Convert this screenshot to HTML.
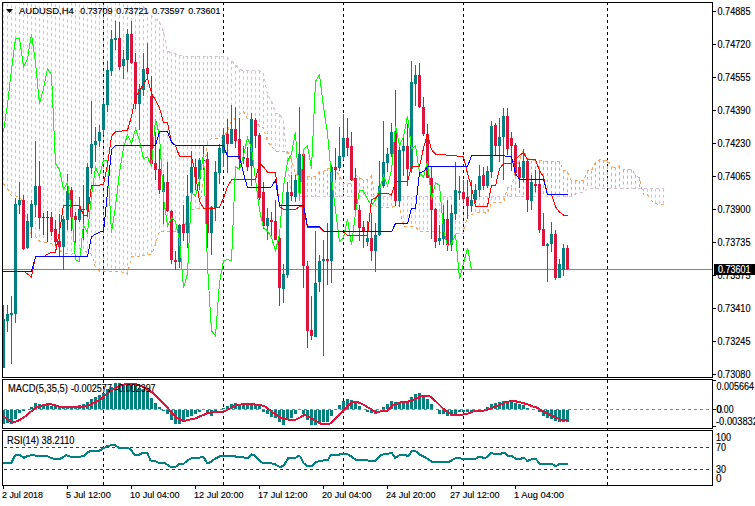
<!DOCTYPE html><html><head><meta charset="utf-8"><style>html,body{margin:0;padding:0;background:#fff;width:755px;height:506px;overflow:hidden}svg{display:block}text{font-family:"Liberation Sans",sans-serif;stroke:currentColor;stroke-width:0.15px}</style></head><body>
<svg width="755" height="506" viewBox="0 0 755 506">
<rect x="0" y="0" width="755" height="506" fill="#fff"/>
<defs>
<clipPath id="cm"><rect x="3" y="3" width="709" height="374"/></clipPath>
<clipPath id="cd"><rect x="3" y="380" width="709" height="48"/></clipPath>
<clipPath id="cr"><rect x="3" y="431" width="709" height="54"/></clipPath>
</defs>
<line x1="103.5" y1="2" x2="103.5" y2="485" stroke="#000" stroke-dasharray="3 3" shape-rendering="crispEdges"/>
<line x1="223.5" y1="2" x2="223.5" y2="485" stroke="#000" stroke-dasharray="3 3" shape-rendering="crispEdges"/>
<line x1="343.5" y1="2" x2="343.5" y2="485" stroke="#000" stroke-dasharray="3 3" shape-rendering="crispEdges"/>
<line x1="463.5" y1="2" x2="463.5" y2="485" stroke="#000" stroke-dasharray="3 3" shape-rendering="crispEdges"/>
<line x1="607.5" y1="2" x2="607.5" y2="485" stroke="#000" stroke-dasharray="3 3" shape-rendering="crispEdges"/>
<g clip-path="url(#cm)">
<line x1="3.5" y1="-39.2" x2="3.5" y2="184.0" stroke="#D8BFD8" stroke-dasharray="3 3"/><line x1="7.5" y1="-38.2" x2="7.5" y2="188.6" stroke="#D8BFD8" stroke-dasharray="3 3"/><line x1="11.5" y1="-37.1" x2="11.5" y2="195.5" stroke="#D8BFD8" stroke-dasharray="3 3"/><line x1="15.5" y1="-36.1" x2="15.5" y2="196.0" stroke="#D8BFD8" stroke-dasharray="3 3"/><line x1="19.5" y1="-35.1" x2="19.5" y2="196.5" stroke="#D8BFD8" stroke-dasharray="3 3"/><line x1="23.5" y1="-34.0" x2="23.5" y2="202.8" stroke="#D8BFD8" stroke-dasharray="3 3"/><line x1="27.5" y1="-33.0" x2="27.5" y2="225.0" stroke="#D8BFD8" stroke-dasharray="3 3"/><line x1="31.5" y1="-32.0" x2="31.5" y2="234.6" stroke="#D8BFD8" stroke-dasharray="3 3"/><line x1="35.5" y1="-30.9" x2="35.5" y2="236.2" stroke="#D8BFD8" stroke-dasharray="3 3"/><line x1="39.5" y1="-29.9" x2="39.5" y2="241.2" stroke="#D8BFD8" stroke-dasharray="3 3"/><line x1="43.5" y1="-28.9" x2="43.5" y2="242.3" stroke="#D8BFD8" stroke-dasharray="3 3"/><line x1="47.5" y1="-27.8" x2="47.5" y2="242.3" stroke="#D8BFD8" stroke-dasharray="3 3"/><line x1="51.5" y1="-26.8" x2="51.5" y2="243.7" stroke="#D8BFD8" stroke-dasharray="3 3"/><line x1="55.5" y1="-25.7" x2="55.5" y2="247.1" stroke="#D8BFD8" stroke-dasharray="3 3"/><line x1="59.5" y1="-24.7" x2="59.5" y2="250.5" stroke="#D8BFD8" stroke-dasharray="3 3"/><line x1="63.5" y1="-23.7" x2="63.5" y2="252.6" stroke="#D8BFD8" stroke-dasharray="3 3"/><line x1="67.5" y1="-22.6" x2="67.5" y2="254.0" stroke="#D8BFD8" stroke-dasharray="3 3"/><line x1="71.5" y1="-21.6" x2="71.5" y2="254.8" stroke="#D8BFD8" stroke-dasharray="3 3"/><line x1="75.5" y1="-20.6" x2="75.5" y2="248.9" stroke="#D8BFD8" stroke-dasharray="3 3"/><line x1="79.5" y1="-19.5" x2="79.5" y2="248.4" stroke="#D8BFD8" stroke-dasharray="3 3"/><line x1="83.5" y1="-18.5" x2="83.5" y2="250.2" stroke="#D8BFD8" stroke-dasharray="3 3"/><line x1="87.5" y1="-17.4" x2="87.5" y2="252.6" stroke="#D8BFD8" stroke-dasharray="3 3"/><line x1="91.5" y1="-16.4" x2="91.5" y2="254.1" stroke="#D8BFD8" stroke-dasharray="3 3"/><line x1="95.5" y1="-15.4" x2="95.5" y2="267.3" stroke="#D8BFD8" stroke-dasharray="3 3"/><line x1="99.5" y1="-14.3" x2="99.5" y2="271.0" stroke="#D8BFD8" stroke-dasharray="3 3"/><line x1="103.5" y1="-13.3" x2="103.5" y2="271.0" stroke="#D8BFD8" stroke-dasharray="3 3"/><line x1="107.5" y1="-12.3" x2="107.5" y2="271.0" stroke="#D8BFD8" stroke-dasharray="3 3"/><line x1="111.5" y1="-11.2" x2="111.5" y2="271.0" stroke="#D8BFD8" stroke-dasharray="3 3"/><line x1="115.5" y1="-10.2" x2="115.5" y2="271.0" stroke="#D8BFD8" stroke-dasharray="3 3"/><line x1="119.5" y1="-9.1" x2="119.5" y2="271.0" stroke="#D8BFD8" stroke-dasharray="3 3"/><line x1="123.5" y1="-8.1" x2="123.5" y2="272.5" stroke="#D8BFD8" stroke-dasharray="3 3"/><line x1="127.5" y1="-7.1" x2="127.5" y2="274.0" stroke="#D8BFD8" stroke-dasharray="3 3"/><line x1="131.5" y1="-6.0" x2="131.5" y2="256.9" stroke="#D8BFD8" stroke-dasharray="3 3"/><line x1="135.5" y1="-5.0" x2="135.5" y2="256.9" stroke="#D8BFD8" stroke-dasharray="3 3"/><line x1="139.5" y1="1.0" x2="139.5" y2="256.9" stroke="#D8BFD8" stroke-dasharray="3 3"/><line x1="143.5" y1="7.0" x2="143.5" y2="255.5" stroke="#D8BFD8" stroke-dasharray="3 3"/><line x1="147.5" y1="11.6" x2="147.5" y2="254.5" stroke="#D8BFD8" stroke-dasharray="3 3"/><line x1="151.5" y1="15.7" x2="151.5" y2="254.5" stroke="#D8BFD8" stroke-dasharray="3 3"/><line x1="155.5" y1="18.5" x2="155.5" y2="244.3" stroke="#D8BFD8" stroke-dasharray="3 3"/><line x1="159.5" y1="21.3" x2="159.5" y2="231.0" stroke="#D8BFD8" stroke-dasharray="3 3"/><line x1="163.5" y1="31.8" x2="163.5" y2="231.0" stroke="#D8BFD8" stroke-dasharray="3 3"/><line x1="167.5" y1="51.0" x2="167.5" y2="231.0" stroke="#D8BFD8" stroke-dasharray="3 3"/><line x1="171.5" y1="52.9" x2="171.5" y2="231.0" stroke="#D8BFD8" stroke-dasharray="3 3"/><line x1="175.5" y1="54.0" x2="175.5" y2="231.0" stroke="#D8BFD8" stroke-dasharray="3 3"/><line x1="179.5" y1="55.6" x2="179.5" y2="236.1" stroke="#D8BFD8" stroke-dasharray="3 3"/><line x1="183.5" y1="56.0" x2="183.5" y2="236.5" stroke="#D8BFD8" stroke-dasharray="3 3"/><line x1="187.5" y1="56.0" x2="187.5" y2="211.0" stroke="#D8BFD8" stroke-dasharray="3 3"/><line x1="191.5" y1="56.0" x2="191.5" y2="209.6" stroke="#D8BFD8" stroke-dasharray="3 3"/><line x1="195.5" y1="56.0" x2="195.5" y2="208.6" stroke="#D8BFD8" stroke-dasharray="3 3"/><line x1="199.5" y1="56.0" x2="199.5" y2="208.2" stroke="#D8BFD8" stroke-dasharray="3 3"/><line x1="203.5" y1="56.0" x2="203.5" y2="178.4" stroke="#D8BFD8" stroke-dasharray="3 3"/><line x1="207.5" y1="56.0" x2="207.5" y2="143.0" stroke="#D8BFD8" stroke-dasharray="3 3"/><line x1="211.5" y1="56.0" x2="211.5" y2="138.6" stroke="#D8BFD8" stroke-dasharray="3 3"/><line x1="215.5" y1="56.0" x2="215.5" y2="138.6" stroke="#D8BFD8" stroke-dasharray="3 3"/><line x1="219.5" y1="56.0" x2="219.5" y2="137.8" stroke="#D8BFD8" stroke-dasharray="3 3"/><line x1="223.5" y1="56.0" x2="223.5" y2="137.8" stroke="#D8BFD8" stroke-dasharray="3 3"/><line x1="227.5" y1="57.5" x2="227.5" y2="130.8" stroke="#D8BFD8" stroke-dasharray="3 3"/><line x1="231.5" y1="61.0" x2="231.5" y2="121.3" stroke="#D8BFD8" stroke-dasharray="3 3"/><line x1="235.5" y1="65.0" x2="235.5" y2="118.2" stroke="#D8BFD8" stroke-dasharray="3 3"/><line x1="239.5" y1="69.4" x2="239.5" y2="114.5" stroke="#D8BFD8" stroke-dasharray="3 3"/><line x1="243.5" y1="70.6" x2="243.5" y2="111.6" stroke="#D8BFD8" stroke-dasharray="3 3"/><line x1="247.5" y1="70.7" x2="247.5" y2="119.2" stroke="#D8BFD8" stroke-dasharray="3 3"/><line x1="251.5" y1="70.8" x2="251.5" y2="122.7" stroke="#D8BFD8" stroke-dasharray="3 3"/><line x1="255.5" y1="70.9" x2="255.5" y2="119.8" stroke="#D8BFD8" stroke-dasharray="3 3"/><line x1="259.5" y1="71.0" x2="259.5" y2="127.2" stroke="#D8BFD8" stroke-dasharray="3 3"/><line x1="263.5" y1="73.0" x2="263.5" y2="127.2" stroke="#D8BFD8" stroke-dasharray="3 3"/><line x1="267.5" y1="95.0" x2="267.5" y2="142.2" stroke="#D8BFD8" stroke-dasharray="3 3"/><line x1="271.5" y1="101.0" x2="271.5" y2="145.7" stroke="#D8BFD8" stroke-dasharray="3 3"/><line x1="275.5" y1="113.0" x2="275.5" y2="151.1" stroke="#D8BFD8" stroke-dasharray="3 3"/><line x1="279.5" y1="114.2" x2="279.5" y2="151.1" stroke="#D8BFD8" stroke-dasharray="3 3"/><line x1="283.5" y1="120.5" x2="283.5" y2="151.1" stroke="#D8BFD8" stroke-dasharray="3 3"/><line x1="287.5" y1="151.1" x2="287.5" y2="162.5" stroke="#F4A460" stroke-dasharray="3 3"/><line x1="291.5" y1="159.5" x2="291.5" y2="196.9" stroke="#F4A460" stroke-dasharray="3 3"/><line x1="295.5" y1="173.5" x2="295.5" y2="196.9" stroke="#F4A460" stroke-dasharray="3 3"/><line x1="299.5" y1="176.9" x2="299.5" y2="196.9" stroke="#F4A460" stroke-dasharray="3 3"/><line x1="303.5" y1="176.9" x2="303.5" y2="196.9" stroke="#F4A460" stroke-dasharray="3 3"/><line x1="307.5" y1="176.9" x2="307.5" y2="196.9" stroke="#F4A460" stroke-dasharray="3 3"/><line x1="311.5" y1="176.9" x2="311.5" y2="196.9" stroke="#F4A460" stroke-dasharray="3 3"/><line x1="315.5" y1="176.4" x2="315.5" y2="196.9" stroke="#F4A460" stroke-dasharray="3 3"/><line x1="319.5" y1="171.9" x2="319.5" y2="196.9" stroke="#F4A460" stroke-dasharray="3 3"/><line x1="323.5" y1="171.7" x2="323.5" y2="196.9" stroke="#F4A460" stroke-dasharray="3 3"/><line x1="327.5" y1="168.2" x2="327.5" y2="196.9" stroke="#F4A460" stroke-dasharray="3 3"/><line x1="331.5" y1="168.2" x2="331.5" y2="196.9" stroke="#F4A460" stroke-dasharray="3 3"/><line x1="335.5" y1="168.2" x2="335.5" y2="196.9" stroke="#F4A460" stroke-dasharray="3 3"/><line x1="339.5" y1="176.6" x2="339.5" y2="196.9" stroke="#F4A460" stroke-dasharray="3 3"/><line x1="343.5" y1="183.8" x2="343.5" y2="196.9" stroke="#F4A460" stroke-dasharray="3 3"/><line x1="347.5" y1="183.8" x2="347.5" y2="196.9" stroke="#F4A460" stroke-dasharray="3 3"/><line x1="351.5" y1="183.8" x2="351.5" y2="196.9" stroke="#F4A460" stroke-dasharray="3 3"/><line x1="355.5" y1="175.3" x2="355.5" y2="196.9" stroke="#F4A460" stroke-dasharray="3 3"/><line x1="359.5" y1="177.3" x2="359.5" y2="196.9" stroke="#F4A460" stroke-dasharray="3 3"/><line x1="363.5" y1="180.1" x2="363.5" y2="196.9" stroke="#F4A460" stroke-dasharray="3 3"/><line x1="367.5" y1="179.6" x2="367.5" y2="196.9" stroke="#F4A460" stroke-dasharray="3 3"/><line x1="371.5" y1="176.1" x2="371.5" y2="196.9" stroke="#F4A460" stroke-dasharray="3 3"/><line x1="375.5" y1="196.9" x2="375.5" y2="205.9" stroke="#D8BFD8" stroke-dasharray="3 3"/><line x1="379.5" y1="196.9" x2="379.5" y2="207.4" stroke="#D8BFD8" stroke-dasharray="3 3"/><line x1="383.5" y1="196.9" x2="383.5" y2="207.4" stroke="#D8BFD8" stroke-dasharray="3 3"/><line x1="387.5" y1="196.9" x2="387.5" y2="207.4" stroke="#D8BFD8" stroke-dasharray="3 3"/><line x1="391.5" y1="196.9" x2="391.5" y2="207.4" stroke="#D8BFD8" stroke-dasharray="3 3"/><line x1="395.5" y1="196.9" x2="395.5" y2="205.9" stroke="#D8BFD8" stroke-dasharray="3 3"/><line x1="399.5" y1="196.9" x2="399.5" y2="205.9" stroke="#D8BFD8" stroke-dasharray="3 3"/><line x1="403.5" y1="196.9" x2="403.5" y2="226.8" stroke="#D8BFD8" stroke-dasharray="3 3"/><line x1="407.5" y1="196.9" x2="407.5" y2="226.8" stroke="#D8BFD8" stroke-dasharray="3 3"/><line x1="411.5" y1="196.9" x2="411.5" y2="226.8" stroke="#D8BFD8" stroke-dasharray="3 3"/><line x1="415.5" y1="196.9" x2="415.5" y2="226.8" stroke="#D8BFD8" stroke-dasharray="3 3"/><line x1="419.5" y1="196.9" x2="419.5" y2="231.2" stroke="#D8BFD8" stroke-dasharray="3 3"/><line x1="423.5" y1="196.9" x2="423.5" y2="231.8" stroke="#D8BFD8" stroke-dasharray="3 3"/><line x1="427.5" y1="196.9" x2="427.5" y2="231.8" stroke="#D8BFD8" stroke-dasharray="3 3"/><line x1="431.5" y1="196.9" x2="431.5" y2="231.8" stroke="#D8BFD8" stroke-dasharray="3 3"/><line x1="435.5" y1="196.9" x2="435.5" y2="231.8" stroke="#D8BFD8" stroke-dasharray="3 3"/><line x1="439.5" y1="196.9" x2="439.5" y2="231.8" stroke="#D8BFD8" stroke-dasharray="3 3"/><line x1="443.5" y1="196.9" x2="443.5" y2="233.5" stroke="#D8BFD8" stroke-dasharray="3 3"/><line x1="447.5" y1="196.9" x2="447.5" y2="233.5" stroke="#D8BFD8" stroke-dasharray="3 3"/><line x1="451.5" y1="196.9" x2="451.5" y2="233.5" stroke="#D8BFD8" stroke-dasharray="3 3"/><line x1="455.5" y1="196.9" x2="455.5" y2="233.5" stroke="#D8BFD8" stroke-dasharray="3 3"/><line x1="459.5" y1="196.9" x2="459.5" y2="233.5" stroke="#D8BFD8" stroke-dasharray="3 3"/><line x1="463.5" y1="196.9" x2="463.5" y2="233.5" stroke="#D8BFD8" stroke-dasharray="3 3"/><line x1="467.5" y1="196.9" x2="467.5" y2="215.5" stroke="#D8BFD8" stroke-dasharray="3 3"/><line x1="471.5" y1="196.9" x2="471.5" y2="215.0" stroke="#D8BFD8" stroke-dasharray="3 3"/><line x1="475.5" y1="196.9" x2="475.5" y2="212.5" stroke="#D8BFD8" stroke-dasharray="3 3"/><line x1="479.5" y1="196.9" x2="479.5" y2="212.5" stroke="#D8BFD8" stroke-dasharray="3 3"/><line x1="483.5" y1="196.9" x2="483.5" y2="212.5" stroke="#D8BFD8" stroke-dasharray="3 3"/><line x1="487.5" y1="196.9" x2="487.5" y2="213.5" stroke="#D8BFD8" stroke-dasharray="3 3"/><line x1="491.5" y1="196.9" x2="491.5" y2="202.5" stroke="#D8BFD8" stroke-dasharray="3 3"/><line x1="495.5" y1="196.9" x2="495.5" y2="202.5" stroke="#D8BFD8" stroke-dasharray="3 3"/><line x1="499.5" y1="196.9" x2="499.5" y2="202.5" stroke="#D8BFD8" stroke-dasharray="3 3"/><line x1="503.5" y1="196.9" x2="503.5" y2="202.5" stroke="#D8BFD8" stroke-dasharray="3 3"/><line x1="507.5" y1="187.6" x2="507.5" y2="196.9" stroke="#F4A460" stroke-dasharray="3 3"/><line x1="511.5" y1="187.6" x2="511.5" y2="196.9" stroke="#F4A460" stroke-dasharray="3 3"/><line x1="515.5" y1="169.6" x2="515.5" y2="196.9" stroke="#F4A460" stroke-dasharray="3 3"/><line x1="519.5" y1="160.0" x2="519.5" y2="196.9" stroke="#F4A460" stroke-dasharray="3 3"/><line x1="523.5" y1="150.2" x2="523.5" y2="196.9" stroke="#F4A460" stroke-dasharray="3 3"/><line x1="527.5" y1="158.1" x2="527.5" y2="196.9" stroke="#F4A460" stroke-dasharray="3 3"/><line x1="531.5" y1="160.4" x2="531.5" y2="196.9" stroke="#F4A460" stroke-dasharray="3 3"/><line x1="535.5" y1="160.4" x2="535.5" y2="196.9" stroke="#F4A460" stroke-dasharray="3 3"/><line x1="539.5" y1="160.4" x2="539.5" y2="196.9" stroke="#F4A460" stroke-dasharray="3 3"/><line x1="543.5" y1="161.1" x2="543.5" y2="196.9" stroke="#F4A460" stroke-dasharray="3 3"/><line x1="547.5" y1="161.1" x2="547.5" y2="196.9" stroke="#F4A460" stroke-dasharray="3 3"/><line x1="551.5" y1="161.1" x2="551.5" y2="196.9" stroke="#F4A460" stroke-dasharray="3 3"/><line x1="555.5" y1="161.6" x2="555.5" y2="196.9" stroke="#F4A460" stroke-dasharray="3 3"/><line x1="559.5" y1="161.6" x2="559.5" y2="196.9" stroke="#F4A460" stroke-dasharray="3 3"/><line x1="563.5" y1="170.1" x2="563.5" y2="196.9" stroke="#F4A460" stroke-dasharray="3 3"/><line x1="567.5" y1="171.4" x2="567.5" y2="196.9" stroke="#F4A460" stroke-dasharray="3 3"/><line x1="571.5" y1="180.8" x2="571.5" y2="196.9" stroke="#F4A460" stroke-dasharray="3 3"/><line x1="575.5" y1="180.8" x2="575.5" y2="194.2" stroke="#F4A460" stroke-dasharray="3 3"/><line x1="579.5" y1="180.8" x2="579.5" y2="192.2" stroke="#F4A460" stroke-dasharray="3 3"/><line x1="583.5" y1="180.8" x2="583.5" y2="192.2" stroke="#F4A460" stroke-dasharray="3 3"/><line x1="587.5" y1="170.7" x2="587.5" y2="188.7" stroke="#F4A460" stroke-dasharray="3 3"/><line x1="591.5" y1="170.7" x2="591.5" y2="188.7" stroke="#F4A460" stroke-dasharray="3 3"/><line x1="595.5" y1="162.2" x2="595.5" y2="188.7" stroke="#F4A460" stroke-dasharray="3 3"/><line x1="599.5" y1="159.5" x2="599.5" y2="188.7" stroke="#F4A460" stroke-dasharray="3 3"/><line x1="603.5" y1="160.0" x2="603.5" y2="188.7" stroke="#F4A460" stroke-dasharray="3 3"/><line x1="607.5" y1="160.0" x2="607.5" y2="188.7" stroke="#F4A460" stroke-dasharray="3 3"/><line x1="611.5" y1="166.8" x2="611.5" y2="188.7" stroke="#F4A460" stroke-dasharray="3 3"/><line x1="615.5" y1="167.4" x2="615.5" y2="188.7" stroke="#F4A460" stroke-dasharray="3 3"/><line x1="619.5" y1="166.0" x2="619.5" y2="188.7" stroke="#F4A460" stroke-dasharray="3 3"/><line x1="623.5" y1="169.6" x2="623.5" y2="188.7" stroke="#F4A460" stroke-dasharray="3 3"/><line x1="627.5" y1="169.6" x2="627.5" y2="188.7" stroke="#F4A460" stroke-dasharray="3 3"/><line x1="631.5" y1="169.6" x2="631.5" y2="188.7" stroke="#F4A460" stroke-dasharray="3 3"/><line x1="635.5" y1="174.8" x2="635.5" y2="188.7" stroke="#F4A460" stroke-dasharray="3 3"/><line x1="639.5" y1="178.1" x2="639.5" y2="188.7" stroke="#F4A460" stroke-dasharray="3 3"/><line x1="643.5" y1="188.7" x2="643.5" y2="194.8" stroke="#D8BFD8" stroke-dasharray="3 3"/><line x1="647.5" y1="188.7" x2="647.5" y2="194.8" stroke="#D8BFD8" stroke-dasharray="3 3"/><line x1="651.5" y1="188.7" x2="651.5" y2="200.7" stroke="#D8BFD8" stroke-dasharray="3 3"/><line x1="655.5" y1="188.7" x2="655.5" y2="203.4" stroke="#D8BFD8" stroke-dasharray="3 3"/><line x1="659.5" y1="188.7" x2="659.5" y2="204.9" stroke="#D8BFD8" stroke-dasharray="3 3"/><line x1="663.5" y1="188.7" x2="663.5" y2="204.9" stroke="#D8BFD8" stroke-dasharray="3 3"/>
<polyline points="3.5,-39.2 7.5,-38.2 11.5,-37.1 15.5,-36.1 19.5,-35.1 23.5,-34.0 27.5,-33.0 31.5,-32.0 35.5,-30.9 39.5,-29.9 43.5,-28.9 47.5,-27.8 51.5,-26.8 55.5,-25.7 59.5,-24.7 63.5,-23.7 67.5,-22.6 71.5,-21.6 75.5,-20.6 79.5,-19.5 83.5,-18.5 87.5,-17.4 91.5,-16.4 95.5,-15.4 99.5,-14.3 103.5,-13.3 107.5,-12.3 111.5,-11.2 115.5,-10.2 119.5,-9.1 123.5,-8.1 127.5,-7.1 131.5,-6.0 135.5,-5.0 139.5,1.0 143.5,7.0 147.5,11.6 151.5,15.7 155.5,18.5 159.5,21.3 163.5,31.8 167.5,51.0 171.5,52.9 175.5,54.0 179.5,55.6 183.5,56.0 187.5,56.0 191.5,56.0 195.5,56.0 199.5,56.0 203.5,56.0 207.5,56.0 211.5,56.0 215.5,56.0 219.5,56.0 223.5,56.0 227.5,57.5 231.5,61.0 235.5,65.0 239.5,69.4 243.5,70.6 247.5,70.7 251.5,70.8 255.5,70.9 259.5,71.0 263.5,73.0 267.5,95.0 271.5,101.0 275.5,113.0 279.5,114.2 283.5,120.5 287.5,162.5 291.5,196.9 295.5,196.9 299.5,196.9 303.5,196.9 307.5,196.9 311.5,196.9 315.5,196.9 319.5,196.9 323.5,196.9 327.5,196.9 331.5,196.9 335.5,196.9 339.5,196.9 343.5,196.9 347.5,196.9 351.5,196.9 355.5,196.9 359.5,196.9 363.5,196.9 367.5,196.9 371.5,196.9 375.5,196.9 379.5,196.9 383.5,196.9 387.5,196.9 391.5,196.9 395.5,196.9 399.5,196.9 403.5,196.9 407.5,196.9 411.5,196.9 415.5,196.9 419.5,196.9 423.5,196.9 427.5,196.9 431.5,196.9 435.5,196.9 439.5,196.9 443.5,196.9 447.5,196.9 451.5,196.9 455.5,196.9 459.5,196.9 463.5,196.9 467.5,196.9 471.5,196.9 475.5,196.9 479.5,196.9 483.5,196.9 487.5,196.9 491.5,196.9 495.5,196.9 499.5,196.9 503.5,196.9 507.5,196.9 511.5,196.9 515.5,196.9 519.5,196.9 523.5,196.9 527.5,196.9 531.5,196.9 535.5,196.9 539.5,196.9 543.5,196.9 547.5,196.9 551.5,196.9 555.5,196.9 559.5,196.9 563.5,196.9 567.5,196.9 571.5,196.9 575.5,194.2 579.5,192.2 583.5,192.2 587.5,188.7 591.5,188.7 595.5,188.7 599.5,188.7 603.5,188.7 607.5,188.7 611.5,188.7 615.5,188.7 619.5,188.7 623.5,188.7 627.5,188.7 631.5,188.7 635.5,188.7 639.5,188.7 643.5,188.7 647.5,188.7 651.5,188.7 655.5,188.7 659.5,188.7 663.5,188.7" fill="none" stroke="#D8BFD8" stroke-width="1" stroke-dasharray="3 3" shape-rendering="crispEdges" />
<polyline points="3.5,184.0 7.5,188.6 11.5,195.5 15.5,196.0 19.5,196.5 23.5,202.8 27.5,225.0 31.5,234.6 35.5,236.2 39.5,241.2 43.5,242.3 47.5,242.3 51.5,243.7 55.5,247.1 59.5,250.5 63.5,252.6 67.5,254.0 71.5,254.8 75.5,248.9 79.5,248.4 83.5,250.2 87.5,252.6 91.5,254.1 95.5,267.3 99.5,271.0 103.5,271.0 107.5,271.0 111.5,271.0 115.5,271.0 119.5,271.0 123.5,272.5 127.5,274.0 131.5,256.9 135.5,256.9 139.5,256.9 143.5,255.5 147.5,254.5 151.5,254.5 155.5,244.3 159.5,231.0 163.5,231.0 167.5,231.0 171.5,231.0 175.5,231.0 179.5,236.1 183.5,236.5 187.5,211.0 191.5,209.6 195.5,208.6 199.5,208.2 203.5,178.4 207.5,143.0 211.5,138.6 215.5,138.6 219.5,137.8 223.5,137.8 227.5,130.8 231.5,121.3 235.5,118.2 239.5,114.5 243.5,111.6 247.5,119.2 251.5,122.7 255.5,119.8 259.5,127.2 263.5,127.2 267.5,142.2 271.5,145.7 275.5,151.1 279.5,151.1 283.5,151.1 287.5,151.1 291.5,159.5 295.5,173.5 299.5,176.9 303.5,176.9 307.5,176.9 311.5,176.9 315.5,176.4 319.5,171.9 323.5,171.7 327.5,168.2 331.5,168.2 335.5,168.2 339.5,176.6 343.5,183.8 347.5,183.8 351.5,183.8 355.5,175.3 359.5,177.3 363.5,180.1 367.5,179.6 371.5,176.1 375.5,205.9 379.5,207.4 383.5,207.4 387.5,207.4 391.5,207.4 395.5,205.9 399.5,205.9 403.5,226.8 407.5,226.8 411.5,226.8 415.5,226.8 419.5,231.2 423.5,231.8 427.5,231.8 431.5,231.8 435.5,231.8 439.5,231.8 443.5,233.5 447.5,233.5 451.5,233.5 455.5,233.5 459.5,233.5 463.5,233.5 467.5,215.5 471.5,215.0 475.5,212.5 479.5,212.5 483.5,212.5 487.5,213.5 491.5,202.5 495.5,202.5 499.5,202.5 503.5,202.5 507.5,187.6 511.5,187.6 515.5,169.6 519.5,160.0 523.5,150.2 527.5,158.1 531.5,160.4 535.5,160.4 539.5,160.4 543.5,161.1 547.5,161.1 551.5,161.1 555.5,161.6 559.5,161.6 563.5,170.1 567.5,171.4 571.5,180.8 575.5,180.8 579.5,180.8 583.5,180.8 587.5,170.7 591.5,170.7 595.5,162.2 599.5,159.5 603.5,160.0 607.5,160.0 611.5,166.8 615.5,167.4 619.5,166.0 623.5,169.6 627.5,169.6 631.5,169.6 635.5,174.8 639.5,178.1 643.5,194.8 647.5,194.8 651.5,200.7 655.5,203.4 659.5,204.9 663.5,204.9" fill="none" stroke="#F4A460" stroke-width="1" stroke-dasharray="3 3" shape-rendering="crispEdges" />
<line x1="2" y1="269.5" x2="712" y2="269.5" stroke="#778899"/>
<g shape-rendering="crispEdges"><rect x="3" y="305" width="1" height="63" fill="#008080"/><rect x="2" y="319" width="3" height="49" fill="#008080"/><rect x="7" y="305" width="1" height="27" fill="#008080"/><rect x="6" y="314" width="3" height="7" fill="#008080"/><rect x="11" y="296" width="1" height="68" fill="#008080"/><rect x="10" y="313" width="3" height="2" fill="#008080"/><rect x="15" y="198" width="1" height="125" fill="#008080"/><rect x="14" y="204" width="3" height="110" fill="#008080"/><rect x="19" y="182" width="1" height="32" fill="#008080"/><rect x="18" y="200" width="3" height="5" fill="#008080"/><rect x="23" y="195" width="1" height="55" fill="#DC143C"/><rect x="22" y="200" width="3" height="49" fill="#DC143C"/><rect x="27" y="214" width="1" height="35" fill="#008080"/><rect x="26" y="221" width="3" height="27" fill="#008080"/><rect x="31" y="200" width="1" height="38" fill="#008080"/><rect x="30" y="204" width="3" height="23" fill="#008080"/><rect x="35" y="141" width="1" height="76" fill="#008080"/><rect x="34" y="186" width="3" height="19" fill="#008080"/><rect x="39" y="161" width="1" height="68" fill="#DC143C"/><rect x="38" y="186" width="3" height="32" fill="#DC143C"/><rect x="43" y="213" width="1" height="22" fill="#2F4F4F"/><rect x="42" y="217" width="3" height="1" fill="#2F4F4F"/><rect x="47" y="211" width="1" height="31" fill="#2F4F4F"/><rect x="46" y="217" width="3" height="1" fill="#2F4F4F"/><rect x="51" y="212" width="1" height="24" fill="#DC143C"/><rect x="50" y="217" width="3" height="15" fill="#DC143C"/><rect x="55" y="220" width="1" height="26" fill="#DC143C"/><rect x="54" y="229" width="3" height="13" fill="#DC143C"/><rect x="59" y="214" width="1" height="43" fill="#DC143C"/><rect x="58" y="241" width="3" height="6" fill="#DC143C"/><rect x="63" y="216" width="1" height="54" fill="#008080"/><rect x="62" y="219" width="3" height="28" fill="#008080"/><rect x="67" y="174" width="1" height="56" fill="#008080"/><rect x="66" y="191" width="3" height="29" fill="#008080"/><rect x="71" y="187" width="1" height="44" fill="#DC143C"/><rect x="70" y="190" width="3" height="27" fill="#DC143C"/><rect x="75" y="212" width="1" height="31" fill="#DC143C"/><rect x="74" y="216" width="3" height="4" fill="#DC143C"/><rect x="79" y="197" width="1" height="25" fill="#008080"/><rect x="78" y="209" width="3" height="11" fill="#008080"/><rect x="83" y="185" width="1" height="55" fill="#DC143C"/><rect x="82" y="209" width="3" height="1" fill="#DC143C"/><rect x="87" y="163" width="1" height="49" fill="#008080"/><rect x="86" y="167" width="3" height="43" fill="#008080"/><rect x="91" y="101" width="1" height="73" fill="#008080"/><rect x="90" y="144" width="3" height="24" fill="#008080"/><rect x="95" y="127" width="1" height="35" fill="#008080"/><rect x="94" y="141" width="3" height="4" fill="#008080"/><rect x="99" y="125" width="1" height="22" fill="#008080"/><rect x="98" y="132" width="3" height="9" fill="#008080"/><rect x="103" y="100" width="1" height="35" fill="#008080"/><rect x="102" y="104" width="3" height="26" fill="#008080"/><rect x="107" y="61" width="1" height="51" fill="#008080"/><rect x="106" y="70" width="3" height="35" fill="#008080"/><rect x="111" y="30" width="1" height="46" fill="#008080"/><rect x="110" y="39" width="3" height="32" fill="#008080"/><rect x="115" y="21" width="1" height="29" fill="#008080"/><rect x="114" y="38" width="3" height="2" fill="#008080"/><rect x="119" y="22" width="1" height="48" fill="#DC143C"/><rect x="118" y="38" width="3" height="29" fill="#DC143C"/><rect x="123" y="50" width="1" height="29" fill="#008080"/><rect x="122" y="59" width="3" height="7" fill="#008080"/><rect x="127" y="29" width="1" height="43" fill="#008080"/><rect x="126" y="34" width="3" height="26" fill="#008080"/><rect x="131" y="21" width="1" height="43" fill="#DC143C"/><rect x="130" y="34" width="3" height="29" fill="#DC143C"/><rect x="135" y="53" width="1" height="56" fill="#DC143C"/><rect x="134" y="62" width="3" height="42" fill="#DC143C"/><rect x="139" y="84" width="1" height="46" fill="#008080"/><rect x="138" y="89" width="3" height="15" fill="#008080"/><rect x="143" y="53" width="1" height="43" fill="#008080"/><rect x="142" y="69" width="3" height="21" fill="#008080"/><rect x="147" y="43" width="1" height="35" fill="#DC143C"/><rect x="146" y="68" width="3" height="6" fill="#DC143C"/><rect x="151" y="76" width="1" height="90" fill="#DC143C"/><rect x="150" y="96" width="3" height="68" fill="#DC143C"/><rect x="155" y="132" width="1" height="48" fill="#DC143C"/><rect x="154" y="163" width="3" height="7" fill="#DC143C"/><rect x="159" y="149" width="1" height="45" fill="#DC143C"/><rect x="158" y="169" width="3" height="21" fill="#DC143C"/><rect x="163" y="174" width="1" height="50" fill="#008080"/><rect x="162" y="182" width="3" height="10" fill="#008080"/><rect x="167" y="162" width="1" height="50" fill="#DC143C"/><rect x="166" y="182" width="3" height="29" fill="#DC143C"/><rect x="171" y="210" width="1" height="54" fill="#DC143C"/><rect x="170" y="211" width="3" height="49" fill="#DC143C"/><rect x="175" y="251" width="1" height="19" fill="#DC143C"/><rect x="174" y="260" width="3" height="2" fill="#DC143C"/><rect x="179" y="224" width="1" height="44" fill="#008080"/><rect x="178" y="225" width="3" height="37" fill="#008080"/><rect x="183" y="205" width="1" height="36" fill="#DC143C"/><rect x="182" y="224" width="3" height="9" fill="#DC143C"/><rect x="187" y="175" width="1" height="73" fill="#008080"/><rect x="186" y="196" width="3" height="37" fill="#008080"/><rect x="191" y="151" width="1" height="51" fill="#008080"/><rect x="190" y="167" width="3" height="26" fill="#008080"/><rect x="195" y="159" width="1" height="31" fill="#DC143C"/><rect x="194" y="167" width="3" height="10" fill="#DC143C"/><rect x="199" y="158" width="1" height="32" fill="#008080"/><rect x="198" y="160" width="3" height="19" fill="#008080"/><rect x="203" y="146" width="1" height="24" fill="#2F4F4F"/><rect x="202" y="160" width="3" height="1" fill="#2F4F4F"/><rect x="207" y="152" width="1" height="96" fill="#DC143C"/><rect x="206" y="159" width="3" height="74" fill="#DC143C"/><rect x="211" y="206" width="1" height="49" fill="#008080"/><rect x="210" y="207" width="3" height="26" fill="#008080"/><rect x="215" y="161" width="1" height="60" fill="#008080"/><rect x="214" y="172" width="3" height="36" fill="#008080"/><rect x="219" y="144" width="1" height="40" fill="#008080"/><rect x="218" y="148" width="3" height="25" fill="#008080"/><rect x="223" y="128" width="1" height="39" fill="#008080"/><rect x="222" y="135" width="3" height="18" fill="#008080"/><rect x="227" y="119" width="1" height="54" fill="#DC143C"/><rect x="226" y="134" width="3" height="10" fill="#DC143C"/><rect x="231" y="105" width="1" height="39" fill="#008080"/><rect x="230" y="129" width="3" height="15" fill="#008080"/><rect x="235" y="107" width="1" height="41" fill="#DC143C"/><rect x="234" y="129" width="3" height="12" fill="#DC143C"/><rect x="239" y="118" width="1" height="52" fill="#DC143C"/><rect x="238" y="139" width="3" height="20" fill="#DC143C"/><rect x="243" y="146" width="1" height="18" fill="#008080"/><rect x="242" y="157" width="3" height="2" fill="#008080"/><rect x="247" y="147" width="1" height="24" fill="#DC143C"/><rect x="246" y="158" width="3" height="9" fill="#DC143C"/><rect x="251" y="113" width="1" height="73" fill="#008080"/><rect x="250" y="119" width="3" height="47" fill="#008080"/><rect x="255" y="118" width="1" height="30" fill="#DC143C"/><rect x="254" y="120" width="3" height="16" fill="#DC143C"/><rect x="259" y="133" width="1" height="67" fill="#DC143C"/><rect x="258" y="135" width="3" height="63" fill="#DC143C"/><rect x="263" y="182" width="1" height="47" fill="#DC143C"/><rect x="262" y="192" width="3" height="34" fill="#DC143C"/><rect x="267" y="208" width="1" height="32" fill="#008080"/><rect x="266" y="218" width="3" height="8" fill="#008080"/><rect x="271" y="212" width="1" height="24" fill="#DC143C"/><rect x="270" y="220" width="3" height="2" fill="#DC143C"/><rect x="275" y="200" width="1" height="40" fill="#DC143C"/><rect x="274" y="221" width="3" height="19" fill="#DC143C"/><rect x="279" y="232" width="1" height="74" fill="#DC143C"/><rect x="278" y="238" width="3" height="50" fill="#DC143C"/><rect x="283" y="264" width="1" height="39" fill="#008080"/><rect x="282" y="274" width="3" height="15" fill="#008080"/><rect x="287" y="182" width="1" height="96" fill="#008080"/><rect x="286" y="192" width="3" height="83" fill="#008080"/><rect x="291" y="175" width="1" height="26" fill="#DC143C"/><rect x="290" y="192" width="3" height="4" fill="#DC143C"/><rect x="295" y="175" width="1" height="27" fill="#008080"/><rect x="294" y="180" width="3" height="17" fill="#008080"/><rect x="299" y="107" width="1" height="93" fill="#008080"/><rect x="298" y="154" width="3" height="28" fill="#008080"/><rect x="303" y="149" width="1" height="139" fill="#DC143C"/><rect x="302" y="154" width="3" height="112" fill="#DC143C"/><rect x="307" y="261" width="1" height="87" fill="#DC143C"/><rect x="306" y="266" width="3" height="65" fill="#DC143C"/><rect x="311" y="296" width="1" height="44" fill="#DC143C"/><rect x="310" y="330" width="3" height="6" fill="#DC143C"/><rect x="315" y="231" width="1" height="106" fill="#008080"/><rect x="314" y="283" width="3" height="54" fill="#008080"/><rect x="319" y="255" width="1" height="37" fill="#008080"/><rect x="318" y="261" width="3" height="21" fill="#008080"/><rect x="323" y="240" width="1" height="116" fill="#008080"/><rect x="322" y="259" width="3" height="2" fill="#008080"/><rect x="327" y="223" width="1" height="62" fill="#DC143C"/><rect x="326" y="259" width="3" height="2" fill="#DC143C"/><rect x="331" y="165" width="1" height="118" fill="#008080"/><rect x="330" y="167" width="3" height="94" fill="#008080"/><rect x="335" y="148" width="1" height="32" fill="#DC143C"/><rect x="334" y="167" width="3" height="3" fill="#DC143C"/><rect x="339" y="127" width="1" height="44" fill="#008080"/><rect x="338" y="156" width="3" height="12" fill="#008080"/><rect x="343" y="114" width="1" height="46" fill="#008080"/><rect x="342" y="138" width="3" height="19" fill="#008080"/><rect x="347" y="118" width="1" height="38" fill="#DC143C"/><rect x="346" y="138" width="3" height="10" fill="#DC143C"/><rect x="351" y="132" width="1" height="49" fill="#DC143C"/><rect x="350" y="146" width="3" height="34" fill="#DC143C"/><rect x="355" y="168" width="1" height="47" fill="#DC143C"/><rect x="354" y="178" width="3" height="32" fill="#DC143C"/><rect x="359" y="205" width="1" height="36" fill="#DC143C"/><rect x="358" y="210" width="3" height="18" fill="#DC143C"/><rect x="363" y="221" width="1" height="27" fill="#DC143C"/><rect x="362" y="227" width="3" height="4" fill="#DC143C"/><rect x="367" y="221" width="1" height="25" fill="#008080"/><rect x="366" y="238" width="3" height="4" fill="#008080"/><rect x="371" y="213" width="1" height="48" fill="#DC143C"/><rect x="370" y="238" width="3" height="13" fill="#DC143C"/><rect x="375" y="223" width="1" height="49" fill="#008080"/><rect x="374" y="235" width="3" height="16" fill="#008080"/><rect x="379" y="161" width="1" height="75" fill="#008080"/><rect x="378" y="186" width="3" height="49" fill="#008080"/><rect x="383" y="121" width="1" height="67" fill="#008080"/><rect x="382" y="162" width="3" height="24" fill="#008080"/><rect x="387" y="148" width="1" height="24" fill="#008080"/><rect x="386" y="154" width="3" height="9" fill="#008080"/><rect x="391" y="123" width="1" height="34" fill="#008080"/><rect x="390" y="132" width="3" height="22" fill="#008080"/><rect x="395" y="90" width="1" height="116" fill="#DC143C"/><rect x="394" y="132" width="3" height="69" fill="#DC143C"/><rect x="399" y="147" width="1" height="60" fill="#008080"/><rect x="398" y="150" width="3" height="51" fill="#008080"/><rect x="403" y="136" width="1" height="40" fill="#008080"/><rect x="402" y="146" width="3" height="5" fill="#008080"/><rect x="407" y="124" width="1" height="62" fill="#DC143C"/><rect x="406" y="146" width="3" height="23" fill="#DC143C"/><rect x="411" y="61" width="1" height="112" fill="#008080"/><rect x="410" y="82" width="3" height="87" fill="#008080"/><rect x="415" y="65" width="1" height="41" fill="#008080"/><rect x="414" y="75" width="3" height="9" fill="#008080"/><rect x="419" y="63" width="1" height="45" fill="#DC143C"/><rect x="418" y="75" width="3" height="32" fill="#DC143C"/><rect x="423" y="97" width="1" height="39" fill="#DC143C"/><rect x="422" y="107" width="3" height="27" fill="#DC143C"/><rect x="427" y="124" width="1" height="54" fill="#DC143C"/><rect x="426" y="134" width="3" height="44" fill="#DC143C"/><rect x="431" y="167" width="1" height="72" fill="#DC143C"/><rect x="430" y="178" width="3" height="32" fill="#DC143C"/><rect x="435" y="208" width="1" height="40" fill="#DC143C"/><rect x="434" y="209" width="3" height="33" fill="#DC143C"/><rect x="439" y="225" width="1" height="20" fill="#008080"/><rect x="438" y="238" width="3" height="3" fill="#008080"/><rect x="443" y="205" width="1" height="40" fill="#008080"/><rect x="442" y="219" width="3" height="20" fill="#008080"/><rect x="447" y="200" width="1" height="51" fill="#DC143C"/><rect x="446" y="219" width="3" height="26" fill="#DC143C"/><rect x="451" y="205" width="1" height="46" fill="#008080"/><rect x="450" y="213" width="3" height="32" fill="#008080"/><rect x="455" y="162" width="1" height="58" fill="#008080"/><rect x="454" y="190" width="3" height="24" fill="#008080"/><rect x="459" y="176" width="1" height="24" fill="#008080"/><rect x="458" y="191" width="3" height="2" fill="#008080"/><rect x="463" y="180" width="1" height="22" fill="#DC143C"/><rect x="462" y="192" width="3" height="7" fill="#DC143C"/><rect x="467" y="180" width="1" height="39" fill="#DC143C"/><rect x="466" y="197" width="3" height="9" fill="#DC143C"/><rect x="471" y="180" width="1" height="32" fill="#008080"/><rect x="470" y="200" width="3" height="6" fill="#008080"/><rect x="475" y="184" width="1" height="19" fill="#008080"/><rect x="474" y="190" width="3" height="10" fill="#008080"/><rect x="479" y="165" width="1" height="32" fill="#008080"/><rect x="478" y="176" width="3" height="14" fill="#008080"/><rect x="483" y="167" width="1" height="23" fill="#DC143C"/><rect x="482" y="175" width="3" height="11" fill="#DC143C"/><rect x="487" y="166" width="1" height="22" fill="#008080"/><rect x="486" y="171" width="3" height="15" fill="#008080"/><rect x="491" y="121" width="1" height="57" fill="#008080"/><rect x="490" y="126" width="3" height="46" fill="#008080"/><rect x="495" y="123" width="1" height="33" fill="#DC143C"/><rect x="494" y="125" width="3" height="21" fill="#DC143C"/><rect x="499" y="118" width="1" height="44" fill="#008080"/><rect x="498" y="137" width="3" height="9" fill="#008080"/><rect x="503" y="108" width="1" height="72" fill="#008080"/><rect x="502" y="116" width="3" height="21" fill="#008080"/><rect x="507" y="108" width="1" height="47" fill="#DC143C"/><rect x="506" y="116" width="3" height="33" fill="#DC143C"/><rect x="511" y="132" width="1" height="39" fill="#DC143C"/><rect x="510" y="138" width="3" height="8" fill="#DC143C"/><rect x="515" y="143" width="1" height="33" fill="#DC143C"/><rect x="514" y="145" width="3" height="28" fill="#DC143C"/><rect x="519" y="162" width="1" height="26" fill="#DC143C"/><rect x="518" y="167" width="3" height="11" fill="#DC143C"/><rect x="523" y="149" width="1" height="33" fill="#008080"/><rect x="522" y="161" width="3" height="17" fill="#008080"/><rect x="527" y="158" width="1" height="54" fill="#DC143C"/><rect x="526" y="161" width="3" height="39" fill="#DC143C"/><rect x="531" y="175" width="1" height="35" fill="#008080"/><rect x="530" y="182" width="3" height="19" fill="#008080"/><rect x="535" y="170" width="1" height="22" fill="#DC143C"/><rect x="534" y="184" width="3" height="2" fill="#DC143C"/><rect x="539" y="169" width="1" height="64" fill="#DC143C"/><rect x="538" y="184" width="3" height="46" fill="#DC143C"/><rect x="543" y="213" width="1" height="33" fill="#DC143C"/><rect x="542" y="229" width="3" height="17" fill="#DC143C"/><rect x="547" y="243" width="1" height="39" fill="#008080"/><rect x="546" y="244" width="3" height="2" fill="#008080"/><rect x="551" y="222" width="1" height="30" fill="#008080"/><rect x="550" y="234" width="3" height="10" fill="#008080"/><rect x="555" y="230" width="1" height="50" fill="#DC143C"/><rect x="554" y="234" width="3" height="44" fill="#DC143C"/><rect x="559" y="259" width="1" height="19" fill="#008080"/><rect x="558" y="264" width="3" height="14" fill="#008080"/><rect x="563" y="244" width="1" height="32" fill="#008080"/><rect x="562" y="248" width="3" height="22" fill="#008080"/><rect x="567" y="245" width="1" height="25" fill="#DC143C"/><rect x="566" y="248" width="3" height="21" fill="#DC143C"/></g>
<polyline points="3.5,131.9 7.5,104.2 11.5,69.6 15.5,38.8 19.5,38.2 23.5,66.9 27.5,59.0 31.5,33.8 35.5,62.9 39.5,103.9 43.5,88.8 47.5,68.9 51.5,74.5 55.5,163.6 59.5,169.6 63.5,189.5 67.5,182.5 71.5,210.9 75.5,259.6 79.5,261.6 83.5,224.8 87.5,232.7 91.5,196.0 95.5,167.1 99.5,176.6 103.5,160.0 107.5,160.2 111.5,232.7 115.5,206.9 119.5,171.9 123.5,147.7 127.5,134.8 131.5,143.7 135.5,128.8 139.5,140.8 143.5,158.6 147.5,156.7 151.5,166.6 155.5,118.9 159.5,135.8 163.5,198.0 167.5,225.8 171.5,217.8 175.5,221.8 179.5,239.7 183.5,288.0 187.5,273.8 191.5,192.4 195.5,196.0 199.5,180.5 203.5,153.7 207.5,265.8 211.5,330.7 215.5,335.7 219.5,282.7 223.5,260.9 227.5,259.4 231.5,260.9 235.5,166.6 239.5,169.6 243.5,155.7 247.5,137.8 251.5,147.7 255.5,179.5 259.5,209.9 263.5,227.8 267.5,230.8 271.5,237.7 275.5,250.6 279.5,234.7 283.5,186.5 287.5,161.6 291.5,153.7 295.5,131.8 299.5,201.0 303.5,149.7 307.5,145.7 311.5,168.6 315.5,81.5 319.5,74.6 323.5,106.6 327.5,133.6 331.5,177.5 335.5,209.9 339.5,241.7 343.5,237.7 347.5,218.8 351.5,244.7 355.5,212.9 359.5,190.5 363.5,191.0 367.5,198.9 371.5,205.9 375.5,199.9 379.5,189.5 383.5,175.5 387.5,185.5 391.5,170.6 395.5,125.8 399.5,145.7 403.5,136.8 407.5,115.9 411.5,148.7 415.5,145.7 419.5,172.6 423.5,177.5 427.5,160.6 431.5,199.9 435.5,182.5 439.5,185.5 443.5,229.8 447.5,245.7 451.5,243.7 455.5,234.2 459.5,278.5 463.5,263.6 467.5,247.7 471.5,269.3" fill="none" stroke="#00FF00" stroke-width="1" shape-rendering="crispEdges" />
<polyline points="2.5,271.0 3.5,271.0 7.5,271.0 11.5,271.0 15.5,271.0 19.5,271.0 23.5,271.0 27.5,274.0 31.5,277.0 35.5,256.9 39.5,256.9 43.5,256.9 47.5,254.2 51.5,252.2 55.5,252.2 59.5,231.8 63.5,205.2 67.5,205.2 71.5,205.2 75.5,205.2 79.5,205.2 83.5,215.2 87.5,216.1 91.5,185.1 95.5,185.1 99.5,185.1 103.5,184.7 107.5,165.1 111.5,136.4 115.5,131.9 119.5,131.9 123.5,130.3 127.5,130.3 131.5,116.3 135.5,97.4 139.5,91.2 143.5,83.8 147.5,78.0 151.5,93.2 155.5,100.2 159.5,107.7 163.5,122.4 167.5,122.4 171.5,142.2 175.5,145.7 179.5,156.6 183.5,156.6 187.5,156.6 191.5,156.6 195.5,173.3 199.5,201.3 203.5,208.1 207.5,208.1 211.5,208.1 215.5,208.1 219.5,207.1 223.5,198.2 227.5,186.8 231.5,179.8 235.5,179.8 239.5,179.8 243.5,179.8 247.5,179.8 251.5,179.8 255.5,179.8 259.5,162.9 263.5,166.9 267.5,172.3 271.5,172.3 275.5,172.3 279.5,206.4 283.5,209.4 287.5,209.4 291.5,209.4 295.5,209.4 299.5,206.4 303.5,206.4 307.5,227.3 311.5,227.3 315.5,227.3 319.5,227.3 323.5,231.8 327.5,231.8 331.5,231.8 335.5,231.8 339.5,231.8 343.5,231.8 347.5,235.2 351.5,235.2 355.5,235.2 359.5,235.2 363.5,235.2 367.5,235.2 371.5,199.3 375.5,198.3 379.5,193.2 383.5,193.2 387.5,193.2 391.5,195.2 395.5,181.5 399.5,181.5 403.5,181.5 407.5,181.5 411.5,166.6 415.5,166.6 419.5,166.6 423.5,148.3 427.5,133.8 431.5,149.7 435.5,154.2 439.5,154.2 443.5,154.2 447.5,155.6 451.5,155.6 455.5,155.6 459.5,156.6 463.5,156.6 467.5,173.6 471.5,187.2 475.5,206.1 479.5,206.1 483.5,206.1 487.5,206.1 491.5,185.8 495.5,185.8 499.5,168.9 503.5,163.4 507.5,163.4 511.5,163.4 515.5,159.9 519.5,155.4 523.5,152.7 527.5,159.9 531.5,159.9 535.5,159.9 539.5,170.3 543.5,176.8 547.5,194.8 551.5,194.8 555.5,206.7 559.5,212.1 563.5,215.1 567.5,215.1" fill="none" stroke="#FF0000" stroke-width="1" shape-rendering="crispEdges" />
<polyline points="2.5,271.0 3.5,271.0 7.5,271.0 11.5,271.0 15.5,271.0 19.5,271.0 23.5,271.0 27.5,271.0 31.5,271.0 35.5,256.9 39.5,256.9 43.5,256.9 47.5,256.9 51.5,256.9 55.5,256.9 59.5,256.9 63.5,256.9 67.5,256.9 71.5,256.9 75.5,256.9 79.5,256.9 83.5,256.9 87.5,256.9 91.5,236.8 95.5,234.1 99.5,232.1 103.5,231.7 107.5,191.7 111.5,149.7 115.5,145.2 119.5,145.2 123.5,145.2 127.5,145.2 131.5,145.2 135.5,145.2 139.5,145.2 143.5,145.2 147.5,145.2 151.5,145.2 155.5,145.2 159.5,131.9 163.5,131.9 167.5,131.9 171.5,142.2 175.5,145.7 179.5,145.7 183.5,145.7 187.5,145.7 191.5,145.7 195.5,145.7 199.5,145.7 203.5,145.7 207.5,145.7 211.5,145.7 215.5,145.7 219.5,145.7 223.5,145.7 227.5,156.6 231.5,156.6 235.5,156.6 239.5,156.6 243.5,173.3 247.5,187.8 251.5,187.8 255.5,187.8 259.5,187.8 263.5,187.8 267.5,187.8 271.5,186.8 275.5,179.8 279.5,205.4 283.5,205.4 287.5,205.4 291.5,205.4 295.5,205.4 299.5,205.4 303.5,205.4 307.5,226.3 311.5,226.3 315.5,226.3 319.5,226.3 323.5,230.8 327.5,231.8 331.5,231.8 335.5,231.8 339.5,231.8 343.5,231.8 347.5,231.8 351.5,231.8 355.5,231.8 359.5,231.8 363.5,231.8 367.5,231.8 371.5,231.8 375.5,231.8 379.5,231.8 383.5,231.8 387.5,231.8 391.5,231.8 395.5,223.5 399.5,223.5 403.5,223.5 407.5,223.5 411.5,208.6 415.5,208.6 419.5,172.7 423.5,171.7 427.5,166.6 431.5,166.6 435.5,166.6 439.5,166.6 443.5,166.6 447.5,166.6 451.5,166.6 455.5,166.6 459.5,166.6 463.5,166.6 467.5,166.6 471.5,155.6 475.5,155.6 479.5,155.6 483.5,155.6 487.5,155.6 491.5,155.6 495.5,155.6 499.5,155.6 503.5,155.6 507.5,156.6 511.5,156.6 515.5,173.6 519.5,179.3 523.5,179.3 527.5,179.3 531.5,179.3 535.5,179.3 539.5,179.3 543.5,179.3 547.5,194.8 551.5,194.8 555.5,194.8 559.5,194.8 563.5,194.8 567.5,194.8" fill="none" stroke="#0000FF" stroke-width="1" shape-rendering="crispEdges" />
</g>
<path d="M6,9 L13,9 L9.5,13 Z" fill="#000"/>
<text x="19" y="14" font-size="9.5" fill="#000" textLength="54.8" lengthAdjust="spacingAndGlyphs">AUDUSD,H4</text>
<text x="80.2" y="14" font-size="9.5" fill="#000" textLength="32.3" lengthAdjust="spacingAndGlyphs">0.73709</text>
<text x="116.2" y="14" font-size="9.5" fill="#000" textLength="32.3" lengthAdjust="spacingAndGlyphs">0.73721</text>
<text x="152.2" y="14" font-size="9.5" fill="#000" textLength="32.3" lengthAdjust="spacingAndGlyphs">0.73597</text>
<text x="188.2" y="14" font-size="9.5" fill="#000" textLength="32.3" lengthAdjust="spacingAndGlyphs">0.73601</text>
<g clip-path="url(#cd)">
<line x1="2" y1="409.5" x2="712" y2="409.5" stroke="#808080" stroke-dasharray="3 3" stroke-dashoffset="4"/>
<g shape-rendering="crispEdges"><rect x="2" y="410" width="3" height="14" fill="#008080"/><rect x="6" y="410" width="3" height="13" fill="#008080"/><rect x="10" y="410" width="3" height="14" fill="#008080"/><rect x="14" y="410" width="3" height="9" fill="#008080"/><rect x="18" y="410" width="3" height="3" fill="#008080"/><rect x="22" y="410" width="3" height="1" fill="#008080"/><rect x="30" y="407" width="3" height="2" fill="#008080"/><rect x="34" y="403" width="3" height="6" fill="#008080"/><rect x="38" y="404" width="3" height="5" fill="#008080"/><rect x="42" y="405" width="3" height="4" fill="#008080"/><rect x="46" y="405" width="3" height="4" fill="#008080"/><rect x="50" y="406" width="3" height="3" fill="#008080"/><rect x="54" y="406" width="3" height="3" fill="#008080"/><rect x="58" y="406" width="3" height="3" fill="#008080"/><rect x="62" y="406" width="3" height="3" fill="#008080"/><rect x="66" y="406" width="3" height="3" fill="#008080"/><rect x="70" y="406" width="3" height="3" fill="#008080"/><rect x="74" y="406" width="3" height="3" fill="#008080"/><rect x="78" y="405" width="3" height="4" fill="#008080"/><rect x="82" y="404" width="3" height="5" fill="#008080"/><rect x="86" y="402" width="3" height="7" fill="#008080"/><rect x="90" y="399" width="3" height="10" fill="#008080"/><rect x="94" y="397" width="3" height="12" fill="#008080"/><rect x="98" y="395" width="3" height="14" fill="#008080"/><rect x="102" y="393" width="3" height="16" fill="#008080"/><rect x="106" y="389" width="3" height="20" fill="#008080"/><rect x="110" y="387" width="3" height="22" fill="#008080"/><rect x="114" y="383" width="3" height="26" fill="#008080"/><rect x="118" y="383" width="3" height="26" fill="#008080"/><rect x="122" y="385" width="3" height="24" fill="#008080"/><rect x="126" y="384" width="3" height="25" fill="#008080"/><rect x="130" y="383" width="3" height="26" fill="#008080"/><rect x="134" y="385" width="3" height="24" fill="#008080"/><rect x="138" y="388" width="3" height="21" fill="#008080"/><rect x="142" y="389" width="3" height="20" fill="#008080"/><rect x="146" y="391" width="3" height="18" fill="#008080"/><rect x="150" y="398" width="3" height="11" fill="#008080"/><rect x="154" y="403" width="3" height="6" fill="#008080"/><rect x="158" y="407" width="3" height="2" fill="#008080"/><rect x="162" y="410" width="3" height="1" fill="#008080"/><rect x="166" y="410" width="3" height="4" fill="#008080"/><rect x="170" y="410" width="3" height="10" fill="#008080"/><rect x="174" y="410" width="3" height="14" fill="#008080"/><rect x="178" y="410" width="3" height="14" fill="#008080"/><rect x="182" y="410" width="3" height="12" fill="#008080"/><rect x="186" y="410" width="3" height="7" fill="#008080"/><rect x="190" y="410" width="3" height="6" fill="#008080"/><rect x="194" y="410" width="3" height="4" fill="#008080"/><rect x="198" y="410" width="3" height="2" fill="#008080"/><rect x="206" y="410" width="3" height="2" fill="#008080"/><rect x="210" y="410" width="3" height="6" fill="#008080"/><rect x="214" y="410" width="3" height="3" fill="#008080"/><rect x="222" y="408" width="3" height="1" fill="#008080"/><rect x="226" y="406" width="3" height="3" fill="#008080"/><rect x="230" y="404" width="3" height="5" fill="#008080"/><rect x="234" y="403" width="3" height="6" fill="#008080"/><rect x="238" y="404" width="3" height="5" fill="#008080"/><rect x="242" y="405" width="3" height="4" fill="#008080"/><rect x="246" y="405" width="3" height="4" fill="#008080"/><rect x="250" y="404" width="3" height="5" fill="#008080"/><rect x="254" y="405" width="3" height="4" fill="#008080"/><rect x="258" y="406" width="3" height="3" fill="#008080"/><rect x="262" y="410" width="3" height="2" fill="#008080"/><rect x="266" y="410" width="3" height="4" fill="#008080"/><rect x="270" y="410" width="3" height="7" fill="#008080"/><rect x="274" y="410" width="3" height="8" fill="#008080"/><rect x="278" y="410" width="3" height="12" fill="#008080"/><rect x="282" y="410" width="3" height="15" fill="#008080"/><rect x="286" y="410" width="3" height="10" fill="#008080"/><rect x="290" y="410" width="3" height="8" fill="#008080"/><rect x="294" y="410" width="3" height="4" fill="#008080"/><rect x="302" y="410" width="3" height="4" fill="#008080"/><rect x="306" y="410" width="3" height="10" fill="#008080"/><rect x="310" y="410" width="3" height="15" fill="#008080"/><rect x="314" y="410" width="3" height="15" fill="#008080"/><rect x="318" y="410" width="3" height="14" fill="#008080"/><rect x="322" y="410" width="3" height="12" fill="#008080"/><rect x="326" y="410" width="3" height="12" fill="#008080"/><rect x="330" y="410" width="3" height="6" fill="#008080"/><rect x="338" y="405" width="3" height="4" fill="#008080"/><rect x="342" y="401" width="3" height="8" fill="#008080"/><rect x="346" y="399" width="3" height="10" fill="#008080"/><rect x="350" y="400" width="3" height="9" fill="#008080"/><rect x="354" y="403" width="3" height="6" fill="#008080"/><rect x="358" y="406" width="3" height="3" fill="#008080"/><rect x="366" y="410" width="3" height="2" fill="#008080"/><rect x="370" y="410" width="3" height="3" fill="#008080"/><rect x="374" y="410" width="3" height="4" fill="#008080"/><rect x="382" y="407" width="3" height="2" fill="#008080"/><rect x="386" y="404" width="3" height="5" fill="#008080"/><rect x="390" y="401" width="3" height="8" fill="#008080"/><rect x="394" y="402" width="3" height="7" fill="#008080"/><rect x="398" y="402" width="3" height="7" fill="#008080"/><rect x="402" y="402" width="3" height="7" fill="#008080"/><rect x="406" y="401" width="3" height="8" fill="#008080"/><rect x="410" y="397" width="3" height="12" fill="#008080"/><rect x="414" y="394" width="3" height="15" fill="#008080"/><rect x="418" y="393" width="3" height="16" fill="#008080"/><rect x="422" y="395" width="3" height="14" fill="#008080"/><rect x="426" y="399" width="3" height="10" fill="#008080"/><rect x="430" y="404" width="3" height="5" fill="#008080"/><rect x="438" y="410" width="3" height="4" fill="#008080"/><rect x="442" y="410" width="3" height="4" fill="#008080"/><rect x="446" y="410" width="3" height="6" fill="#008080"/><rect x="450" y="410" width="3" height="6" fill="#008080"/><rect x="454" y="410" width="3" height="4" fill="#008080"/><rect x="458" y="410" width="3" height="2" fill="#008080"/><rect x="462" y="410" width="3" height="2" fill="#008080"/><rect x="466" y="410" width="3" height="2" fill="#008080"/><rect x="470" y="410" width="3" height="1" fill="#008080"/><rect x="474" y="410" width="3" height="1" fill="#008080"/><rect x="486" y="407" width="3" height="2" fill="#008080"/><rect x="490" y="404" width="3" height="5" fill="#008080"/><rect x="494" y="403" width="3" height="6" fill="#008080"/><rect x="498" y="402" width="3" height="7" fill="#008080"/><rect x="502" y="401" width="3" height="8" fill="#008080"/><rect x="506" y="402" width="3" height="7" fill="#008080"/><rect x="510" y="402" width="3" height="7" fill="#008080"/><rect x="514" y="403" width="3" height="6" fill="#008080"/><rect x="518" y="404" width="3" height="5" fill="#008080"/><rect x="522" y="405" width="3" height="4" fill="#008080"/><rect x="526" y="408" width="3" height="1" fill="#008080"/><rect x="538" y="410" width="3" height="2" fill="#008080"/><rect x="542" y="410" width="3" height="6" fill="#008080"/><rect x="546" y="410" width="3" height="8" fill="#008080"/><rect x="550" y="410" width="3" height="9" fill="#008080"/><rect x="554" y="410" width="3" height="11" fill="#008080"/><rect x="558" y="410" width="3" height="12" fill="#008080"/><rect x="562" y="410" width="3" height="12" fill="#008080"/><rect x="566" y="410" width="3" height="12" fill="#008080"/></g>
<polyline points="2.9,416.1 11.9,422.1 17.2,421.4 23.8,417.5 31.8,410.8 37.1,406.9 43.7,404.9 49.7,403.9 55.6,405.5 59.6,406.6 79.5,406.9 87.4,405.5 92.7,403.5 100.0,399.6 102.9,397.2 110.9,390.6 118.2,386.6 125.5,384.0 136.1,384.0 148.0,389.3 154.6,394.6 163.9,403.8 170.5,411.1 177.1,417.7 183.7,421.0 195.3,418.4 208.5,412.7 216.5,412.2 224.4,411.4 235.0,405.8 244.3,403.8 249.6,403.6 258.9,405.2 264.2,405.8 272.1,411.8 282.7,419.1 294.9,420.1 304.9,414.8 310.2,417.7 320.8,423.7 329.4,424.1 338.0,416.4 351.2,402.5 357.2,401.8 364.5,405.2 375.1,411.8 386.6,411.1 393.2,405.2 399.9,402.5 407.8,401.8 413.1,399.9 422.4,395.9 427.0,395.6 431.0,396.8 437.0,402.5 443.6,409.1 452.2,415.1 459.5,415.1 467.4,413.8 475.4,410.5 483.0,410.8 490.9,408.5 498.8,405.2 506.8,401.8 513.4,400.9 520.0,402.2 528.0,404.5 533.3,406.5 537.3,407.8 543.9,411.8 554.5,417.1 562.4,420.4 567.7,420.4" fill="none" stroke="#DC143C" stroke-width="2" shape-rendering="crispEdges" stroke-linejoin="round"/>
</g>
<text x="8" y="392" font-size="10" fill="#000" textLength="59.8" lengthAdjust="spacingAndGlyphs">MACD(5,35,5)</text>
<text x="71" y="392" font-size="10" fill="#000" textLength="41" lengthAdjust="spacingAndGlyphs">-0.002577</text>
<text x="115.3" y="392" font-size="10" fill="#000" textLength="40.3" lengthAdjust="spacingAndGlyphs">-0.002397</text>
<g clip-path="url(#cr)">
<line x1="2" y1="447.5" x2="712" y2="447.5" stroke="#006400" stroke-dasharray="3 3" stroke-dashoffset="4"/>
<line x1="2" y1="469.5" x2="712" y2="469.5" stroke="#006400" stroke-dasharray="3 3" stroke-dashoffset="4"/>
<polyline points="2.9,463.1 11.3,463.1 15.2,455.2 19.9,455.2 23.8,457.8 27.8,455.8 33.1,455.2 37.1,455.8 47.0,455.8 50.3,457.8 55.6,459.1 59.6,459.1 66.2,455.2 70.9,456.9 79.5,456.9 84.1,455.8 88.1,451.8 92.7,450.8 99.0,450.8 102.9,448.6 107.6,445.9 113.5,445.0 115.5,445.3 118.8,447.9 128.1,447.9 130.8,449.9 134.7,454.8 139.4,454.8 142.0,453.0 147.3,453.0 150.6,460.5 154.6,460.9 158.6,462.9 165.2,463.2 170.5,466.7 175.8,466.7 179.1,463.8 183.7,463.8 187.7,460.1 192.6,457.6 199.9,457.6 203.2,456.5 207.2,463.2 209.2,462.9 216.5,457.9 220.5,455.9 235.0,456.1 236.4,456.9 243.0,456.9 245.0,457.9 248.3,457.9 251.6,454.5 254.9,455.6 261.5,462.5 270.8,463.2 274.8,464.2 280.1,467.1 284.0,465.4 288.3,457.9 295.6,457.9 298.2,455.9 300.2,456.5 303.5,463.2 306.9,465.8 312.2,465.8 316.1,461.8 319.4,461.2 323.4,460.5 328.0,459.8 330.7,454.8 339.3,454.8 340.6,453.9 346.6,453.9 349.9,455.6 355.9,459.8 367.1,459.8 368.4,460.9 375.1,460.9 379.7,455.9 384.6,453.9 389.3,453.5 391.9,453.0 395.2,457.9 399.9,454.8 405.2,454.8 407.2,456.1 408.5,455.9 411.8,451.2 415.1,450.8 419.7,454.5 425.0,457.2 431.7,461.8 448.9,461.8 456.8,457.5 459.5,457.9 462.1,458.8 475.4,458.8 478.3,456.9 481.6,456.9 482.9,457.9 485.6,457.9 487.6,456.5 490.9,453.0 494.2,453.9 500.8,453.9 502.8,452.6 504.8,453.2 507.5,455.9 512.1,456.1 516.1,458.8 520.7,458.8 524.0,457.5 527.3,460.9 533.3,458.8 535.9,459.2 539.9,463.8 551.8,463.8 555.8,466.2 559.8,463.8 567.7,463.8" fill="none" stroke="#008080" stroke-width="2" shape-rendering="crispEdges" stroke-linejoin="round"/>
</g>
<text x="7" y="443.5" font-size="10" fill="#000" textLength="67.5" lengthAdjust="spacingAndGlyphs">RSI(14) 38.2110</text>
<g shape-rendering="crispEdges"><rect x="2" y="2" width="711" height="1" fill="#000"/><rect x="2" y="377" width="711" height="1" fill="#000"/><rect x="2" y="2" width="1" height="376" fill="#000"/><rect x="712" y="2" width="1" height="376" fill="#000"/><rect x="2" y="379" width="711" height="1" fill="#000"/><rect x="2" y="428" width="711" height="1" fill="#000"/><rect x="2" y="379" width="1" height="50" fill="#000"/><rect x="712" y="379" width="1" height="50" fill="#000"/><rect x="2" y="430" width="711" height="1" fill="#000"/><rect x="2" y="485" width="711" height="1" fill="#000"/><rect x="2" y="430" width="1" height="56" fill="#000"/><rect x="712" y="430" width="1" height="56" fill="#000"/></g>
<g><rect x="713" y="11" width="3" height="1" fill="#000"/><text x="717.5" y="15" font-size="10" fill="#000" textLength="33" lengthAdjust="spacingAndGlyphs">0.74885</text><rect x="713" y="44" width="3" height="1" fill="#000"/><text x="717.5" y="48" font-size="10" fill="#000" textLength="33" lengthAdjust="spacingAndGlyphs">0.74720</text><rect x="713" y="77" width="3" height="1" fill="#000"/><text x="717.5" y="81" font-size="10" fill="#000" textLength="33" lengthAdjust="spacingAndGlyphs">0.74555</text><rect x="713" y="110" width="3" height="1" fill="#000"/><text x="717.5" y="114" font-size="10" fill="#000" textLength="33" lengthAdjust="spacingAndGlyphs">0.74390</text><rect x="713" y="143" width="3" height="1" fill="#000"/><text x="717.5" y="147" font-size="10" fill="#000" textLength="33" lengthAdjust="spacingAndGlyphs">0.74230</text><rect x="713" y="176" width="3" height="1" fill="#000"/><text x="717.5" y="180" font-size="10" fill="#000" textLength="33" lengthAdjust="spacingAndGlyphs">0.74065</text><rect x="713" y="209" width="3" height="1" fill="#000"/><text x="717.5" y="213" font-size="10" fill="#000" textLength="33" lengthAdjust="spacingAndGlyphs">0.73900</text><rect x="713" y="242" width="3" height="1" fill="#000"/><text x="717.5" y="246" font-size="10" fill="#000" textLength="33" lengthAdjust="spacingAndGlyphs">0.73735</text><rect x="713" y="275" width="3" height="1" fill="#000"/><text x="717.5" y="279" font-size="10" fill="#000" textLength="33" lengthAdjust="spacingAndGlyphs">0.73575</text><rect x="713" y="308" width="3" height="1" fill="#000"/><text x="717.5" y="312" font-size="10" fill="#000" textLength="33" lengthAdjust="spacingAndGlyphs">0.73410</text><rect x="713" y="341" width="3" height="1" fill="#000"/><text x="717.5" y="345" font-size="10" fill="#000" textLength="33" lengthAdjust="spacingAndGlyphs">0.73245</text><rect x="713" y="374" width="3" height="1" fill="#000"/><text x="717.5" y="378" font-size="10" fill="#000" textLength="33" lengthAdjust="spacingAndGlyphs">0.73080</text></g>
<rect x="714" y="264" width="41" height="11" fill="#000"/>
<text x="718" y="273" font-size="10" fill="#fff" style="color:#fff" textLength="32.5" lengthAdjust="spacingAndGlyphs">0.73601</text>
<rect x="713" y="380" width="3" height="1" fill="#000"/><rect x="713" y="409" width="3" height="1" fill="#000"/><rect x="713" y="426" width="3" height="1" fill="#000"/>
<text x="716.5" y="390" font-size="10" fill="#000" textLength="37.5" lengthAdjust="spacingAndGlyphs">0.005664</text>
<text x="716.5" y="413" font-size="10" fill="#000" textLength="17" lengthAdjust="spacingAndGlyphs">0.00</text>
<text x="716.5" y="413" font-size="10" fill="#000">0</text>
<text x="716" y="425" font-size="10" fill="#000" textLength="42" lengthAdjust="spacingAndGlyphs">-0.003832</text>
<text x="716" y="441" font-size="10" fill="#000" textLength="15" lengthAdjust="spacingAndGlyphs">100</text>
<text x="716" y="451" font-size="10" fill="#000" textLength="10" lengthAdjust="spacingAndGlyphs">70</text>
<text x="716" y="473" font-size="10" fill="#000" textLength="10" lengthAdjust="spacingAndGlyphs">30</text>
<text x="716" y="482" font-size="10" fill="#000">0</text>
<g><rect x="3" y="486" width="1" height="3" fill="#000"/><text x="2" y="498" font-size="9.5" fill="#000" textLength="41" lengthAdjust="spacingAndGlyphs">2 Jul 2018</text><rect x="67" y="486" width="1" height="3" fill="#000"/><text x="66" y="498" font-size="9.5" fill="#000" textLength="44.8" lengthAdjust="spacingAndGlyphs">5 Jul 12:00</text><rect x="131" y="486" width="1" height="3" fill="#000"/><text x="130" y="498" font-size="9.5" fill="#000" textLength="49.5" lengthAdjust="spacingAndGlyphs">10 Jul 04:00</text><rect x="195" y="486" width="1" height="3" fill="#000"/><text x="194" y="498" font-size="9.5" fill="#000" textLength="49.5" lengthAdjust="spacingAndGlyphs">12 Jul 20:00</text><rect x="259" y="486" width="1" height="3" fill="#000"/><text x="258" y="498" font-size="9.5" fill="#000" textLength="49.5" lengthAdjust="spacingAndGlyphs">17 Jul 12:00</text><rect x="323" y="486" width="1" height="3" fill="#000"/><text x="322" y="498" font-size="9.5" fill="#000" textLength="49.5" lengthAdjust="spacingAndGlyphs">20 Jul 04:00</text><rect x="387" y="486" width="1" height="3" fill="#000"/><text x="386" y="498" font-size="9.5" fill="#000" textLength="49.5" lengthAdjust="spacingAndGlyphs">24 Jul 20:00</text><rect x="451" y="486" width="1" height="3" fill="#000"/><text x="450" y="498" font-size="9.5" fill="#000" textLength="49.5" lengthAdjust="spacingAndGlyphs">27 Jul 12:00</text><rect x="515" y="486" width="1" height="3" fill="#000"/><text x="514" y="498" font-size="9.5" fill="#000" textLength="50" lengthAdjust="spacingAndGlyphs">1 Aug 04:00</text></g>
</svg></body></html>
